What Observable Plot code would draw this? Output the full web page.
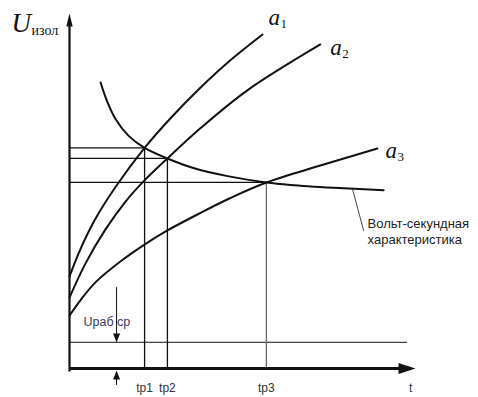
<!DOCTYPE html>
<html><head><meta charset="utf-8">
<script src="https://cdn.jsdelivr.net/npm/d3@7"></script>
<script src="https://cdn.jsdelivr.net/npm/@observablehq/plot@0.6"></script>
<style>body{margin:0;background:#fff} #chart{width:478px;height:397px}</style>
</head><body><div id="chart"></div>
<script>
// ---- data (t and U in arbitrary units) ----
const a1T = [0, 0.32, 0.75, 1.33, 2.17, 2.92, 3.79, 4.65, 5.58];
const a1U = [2.61, 3.39, 4.24, 5.14, 6.25, 7.09, 7.96, 8.73, 9.46];
const a2T = [0, 0.46, 1.04, 1.62, 2.14, 2.83, 3.79, 5.14, 7.25];
const a2U = [2.01, 2.97, 3.94, 4.73, 5.30, 5.95, 6.81, 7.88, 9.18];
const a3T = [0, 0.32, 0.75, 1.47, 2.20, 2.83, 3.79, 4.65, 5.69, 7.25, 8.90];
const a3U = [1.50, 1.94, 2.44, 3.03, 3.53, 3.91, 4.41, 4.83, 5.27, 5.75, 6.23];
const vsT = [0.90, 1.07, 1.33, 1.71, 2.17, 2.83, 3.58, 4.57, 5.69, 6.39, 7.63, 9.08];
const vsU = [8.10, 7.61, 7.07, 6.59, 6.25, 5.95, 5.68, 5.45, 5.27, 5.20, 5.12, 5.05];
const tpT = [2.17, 2.83, 5.69];
const tpU = [6.25, 5.95, 5.27];
const tpLabels = ["tp1", "tp2", "tp3"];
const uRab = 0.74;
const uRabLabel = "Uраб ср";
const uRabArrowT = 1.36;
const uRabArrowTop = 2.29;
const uRabArrowBottom = -0.48;
const uRabLineEnd = 9.77;
const tMax = 10, uMax = 10;
const vsLeaderT = [8.18, 8.50];
const vsLeaderU = [5.08, 3.91];
const vsLabel = "Вольт-секундная\nхарактеристика";
const curveNames = ["a1", "a2", "a3"];

const toRows = (name, T, U) => T.map((t, i) => ({name, t, u: U[i]}));
const curves = [
  ...toRows("a1", a1T, a1U),
  ...toRows("a2", a2T, a2U),
  ...toRows("a3", a3T, a3U),
  ...toRows("vs", vsT, vsU)
];
const ends = {a1: [a1T.at(-1), a1U.at(-1)], a2: [a2T.at(-1), a2U.at(-1)], a3: [a3T.at(-1), a3U.at(-1)]};
const tps = tpT.map((t, i) => ({t, u: tpU[i], label: tpLabels[i]}));

const arrow = (L, w) => ({draw(ctx) { ctx.moveTo(0, 0); ctx.lineTo(w, L); ctx.lineTo(-w, L); ctx.closePath(); }});
const serif = "Liberation Serif, Times New Roman, serif";
const sans = "Liberation Sans, Arial, sans-serif";

const labelMarks = [];
const labelOffsets = {a1: [6, -10], a2: [10, 11], a3: [8, 9]};
curveNames.forEach((n, i) => {
  const [dx, dy] = labelOffsets[n];
  labelMarks.push(Plot.text([ends[n]], {x: d => d[0], y: d => d[1], text: () => "a", dx, dy,
    textAnchor: "start", lineAnchor: "bottom", fontFamily: serif, fontStyle: "italic", fontSize: 23, fill: "#111"}));
  labelMarks.push(Plot.text([ends[n]], {x: d => d[0], y: d => d[1], text: () => String(i + 1), dx: dx + 12, dy: dy + 3,
    textAnchor: "start", lineAnchor: "bottom", fontFamily: serif, fontSize: 13, fill: "#111"}));
});

const chart = Plot.plot({
  width: 478, height: 397,
  marginLeft: 69, marginRight: 63, marginTop: 15, marginBottom: 29,
  x: {domain: [0, tMax], axis: null},
  y: {domain: [0, uMax], axis: null},
  style: {background: "#fff"},
  marks: [
    // guide lines
    Plot.ruleY([uRab], {x1: 0, x2: uRabLineEnd, stroke: "#444", strokeWidth: 1.1}),
    Plot.ruleY(tps, {y: "u", x1: 0, x2: "t", stroke: "#111", strokeWidth: 1.3}),
    Plot.ruleX(tps, {x: "t", y1: 0, y2: "u", stroke: (d, i) => i === 2 ? "#666" : "#111", strokeWidth: 1.3}),
    // Uраб arrows
    Plot.ruleX([uRabArrowT], {y1: uRabArrowTop, y2: uRab + 0.15, stroke: "#111", strokeWidth: 1}),
    Plot.ruleX([uRabArrowT], {y1: uRabArrowBottom, y2: -0.15, stroke: "#111", strokeWidth: 1}),
    Plot.dot([[uRabArrowT, uRab]], {x: d => d[0], y: d => d[1], symbol: arrow(9, 3.5), rotate: 180, fill: "#111", stroke: "none"}),
    Plot.dot([[uRabArrowT, -0.06]], {x: d => d[0], y: d => d[1], symbol: arrow(9, 3.5), rotate: 0, fill: "#111", stroke: "none"}),
    // curves
    Plot.line(curves, {x: "t", y: "u", z: "name", curve: "catmull-rom", stroke: "#111", strokeWidth: 2}),
    // leader for volt-second characteristic
    Plot.line(vsLeaderT.map((t, i) => [t, vsLeaderU[i]]), {x: d => d[0], y: d => d[1], stroke: "#333", strokeWidth: 0.9}),
    Plot.text([[vsLeaderT[1], vsLeaderU[1]]], {x: d => d[0], y: d => d[1], text: () => vsLabel, dx: 4, dy: 0,
      textAnchor: "start", lineAnchor: "middle", lineHeight: 1.25, fontFamily: sans, fontSize: 13, fill: "#222"}),
    // axes
    Plot.ruleX([0], {y1: -0.1, y2: uMax - 0.25, stroke: "#111", strokeWidth: 2.2}),
    Plot.ruleY([0], {x1: 0, x2: tMax - 0.3, stroke: "#111", strokeWidth: 3.2}),
    Plot.dot([[0, uMax + 0.06]], {x: d => d[0], y: d => d[1], symbol: arrow(13, 3.2), rotate: 0, fill: "#111", stroke: "none"}),
    Plot.dot([[tMax, 0]], {x: d => d[0], y: d => d[1], symbol: arrow(17, 5.5), rotate: 90, fill: "#111", stroke: "none"}),
    // axis texts
    Plot.text(tps, {x: "t", y: 0, text: "label", dy: 20, lineAnchor: "middle", fontFamily: sans, fontSize: 12, fill: "#333"}),
    Plot.text(["t"], {x: 9.86, y: 0, text: d => d, dy: 20, lineAnchor: "middle", fontFamily: sans, fontSize: 12, fill: "#333"}),
    Plot.text([uRabLabel], {x: uRabArrowT, y: uRab, text: d => d, dx: -33, dy: -20, textAnchor: "start", lineAnchor: "middle",
      fontFamily: sans, fontSize: 12.5, fill: "#3a3a62"}),
    Plot.text(["U"], {frameAnchor: "top-left", text: d => d, dx: -58, dy: 16, textAnchor: "start", lineAnchor: "bottom",
      fontFamily: serif, fontStyle: "italic", fontSize: 27, fill: "#111"}),
    Plot.text(["изол"], {frameAnchor: "top-left", text: d => d, dx: -38, dy: 19, textAnchor: "start", lineAnchor: "bottom",
      fontFamily: serif, fontSize: 14, fill: "#111"}),
    ...labelMarks
  ]
});
document.getElementById("chart").append(chart);
</script>
</body></html>
